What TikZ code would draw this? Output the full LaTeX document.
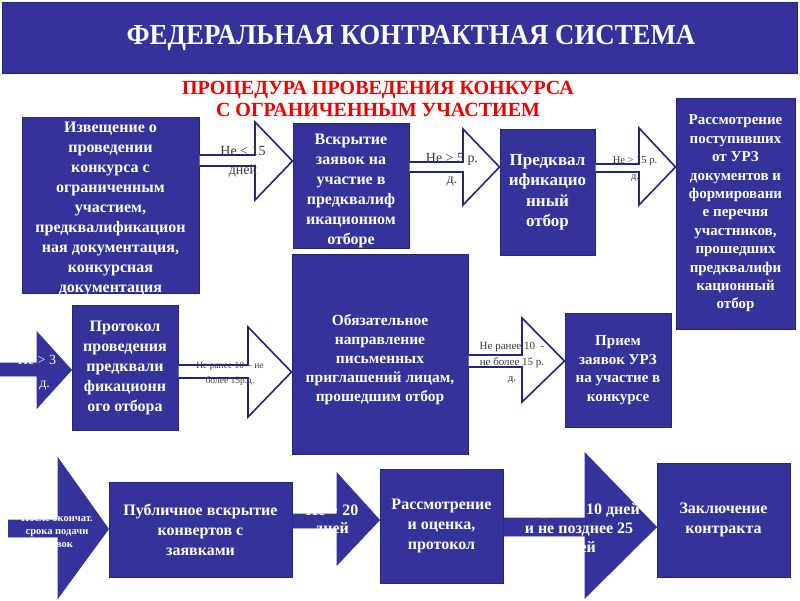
\documentclass[tikz,border=0pt]{standalone}
\usepackage{fontspec}
\usepackage{graphicx}
\setmainfont{Liberation Serif}
\definecolor{navy}{HTML}{333399}
\definecolor{navyedge}{HTML}{25257A}
\definecolor{redtitle}{HTML}{E60000}
\definecolor{labelgray}{HTML}{3A3A3A}
% #1 style, #2 start point, #3 tip point, #4 axis y, #5 shaft top, #6 shaft bottom, #7 head back x, #8 head top, #9 head bottom
\newcommand\barrow[9]{\path[#1] (#2 |- 0,#5) -- (#7,#5) -- (#7,#8) -- (#3 |- 0,#4) -- (#7,#9) -- (#7,#6) -- (#2 |- 0,#6);}
\tikzset{
  box/.style={draw=navyedge, line width=1pt, fill=navy, text=white, align=center, inner sep=0pt,
    font=\bfseries\fontsize{16}{20}\selectfont},
  boxtext/.style={text=white, align=center, inner sep=0pt, font=\bfseries\fontsize{16}{20}\selectfont},
  whitearrow/.style={draw=navyedge, line width=1.6pt, fill=white, line join=miter},
  navyarrow/.style={draw=navy, line width=0.8pt, fill=navy, line join=miter},
  lbl/.style={text=labelgray, align=center, inner sep=0pt},
  navylbl/.style={text=white, align=center, inner sep=0pt}
}
\begin{document}
\begin{tikzpicture}[x=1pt,y=-1pt]
\useasboundingbox (0,0) rectangle (800,600);
\fill[white] (0,0) rectangle (800,600);
% header
\node[draw=navyedge, line width=1pt, fill=navy, minimum width=795pt, minimum height=71pt, inner sep=0pt] (hdr) at (399.5,37.5) {};
\node[text=white, font=\bfseries\fontsize{29}{30}\selectfont, inner sep=0pt] (title) at (411,38) {\scalebox{0.926}[1]{ФЕДЕРАЛЬНАЯ КОНТРАКТНАЯ СИСТЕМА}};
\node[text=redtitle, font=\bfseries\fontsize{20}{22}\selectfont, align=center, inner sep=0pt] (sub) at (378,99) {ПРОЦЕДУРА ПРОВЕДЕНИЯ КОНКУРСА\\С ОГРАНИЧЕННЫМ УЧАСТИЕМ};

% boxes
\node[box, minimum width=177pt, minimum height=176pt,
  label={[boxtext, yshift=-4pt]center:{Извещение о\\проведении\\конкурса с\\ограниченным\\участием,\\предквалификацион\\ная документация,\\конкурсная\\документация}}] (b1) at (110.5,205) {};
\node[box, minimum width=116pt, minimum height=125pt] (b2) at (351,185.5)
  {\\[1pt]Вскрытие\\заявок на\\участие в\\предквалиф\\икационном\\отборе};
\node[box, minimum width=95pt, minimum height=126pt, font=\bfseries\fontsize{17}{20.5}\selectfont] (b3) at (547.5,192)
  {Предквал\\ификацио\\нный\\отбор};
\node[box, minimum width=119pt, minimum height=231pt, font=\bfseries\fontsize{15}{18.4}\selectfont] (b4) at (735.5,213.5)
  {Рассмотрение\\поступивших\\от УРЗ\\документов и\\формировани\\е перечня\\участников,\\прошедших\\предквалифи\\кационный\\отбор};
\node[box, minimum width=106pt, minimum height=125pt] (b5) at (125,367.5)
  {Протокол\\проведения\\предквали\\фикационн\\ого отбора};
\node[box, minimum width=176pt, minimum height=200pt, font=\bfseries\fontsize{15.5}{19}\selectfont] (b6) at (380,354)
  {\\[4pt]Обязательное\\направление\\письменных\\приглашений лицам,\\прошедшим отбор};
\node[box, minimum width=106pt, minimum height=114pt, font=\bfseries\fontsize{15}{18.5}\selectfont] (b7) at (618,370)
  {Прием\\заявок УРЗ\\на участие в\\конкурсе};
\node[box, minimum width=183pt, minimum height=95pt] (b8) at (200.5,529.5)
  {Публичное вскрытие\\конвертов с\\заявками};
\node[box, minimum width=123pt, minimum height=114pt] (b9) at (441.5,526)
  {Рассмотрение\\и оценка,\\протокол};
\node[box, minimum width=133pt, minimum height=114pt] (b10) at (723.5,520)
  {Заключение\\контракта};

\coordinate (s4) at (0,370);
\coordinate (s7) at (8,529);

% arrows
\barrow{whitearrow}{b1.east}{b2.west}{161}{155}{166}{255}{122}{200}
\barrow{whitearrow}{b2.east}{b3.west}{167}{162}{172}{463}{129}{205}
\barrow{whitearrow}{b3.east}{b4.west}{167}{164}{172}{639}{128}{205}
\barrow{navyarrow}{s4}{b5.west}{370}{363}{376}{37}{332}{408}
\barrow{whitearrow}{b5.east}{b6.west}{372}{365}{378}{248}{327}{417}
\barrow{whitearrow}{b6.east}{b7.west}{361}{355}{367}{522}{318}{402}
\barrow{navyarrow}{s7}{b8.west}{529}{520}{537}{58}{458}{598}
\barrow{navyarrow}{b8.east}{b9.west}{520}{514}{528}{337}{473}{565}
\barrow{navyarrow}{b9.east}{b10.west}{527}{518}{536}{585}{453}{598}

% arrow labels
\node[lbl, font=\fontsize{14}{19}\selectfont] (l1) at (243,162) {Не < 15\\дней};
\node[lbl, font=\fontsize{14}{21}\selectfont] (l2) at (452,169.5) {Не > 5 р.\\д.};
\node[lbl, font=\fontsize{10.5}{16}\selectfont] (l3) at (635,169) {Не > 15 р.\\д.};
\node[navylbl, font=\fontsize{14}{23}\selectfont] (l4) at (37,372.5) {Не > 3\\р. д.};
\node[lbl, font=\fontsize{9.5}{15}\selectfont] (l5) at (230,373.5) {Не ранее 10 \ - не\\более 15р.д.};
\node[lbl, font=\fontsize{11}{16}\selectfont] (l6) at (512,363) {Не ранее 10 \ -\\не более 15 р.\\д.};
\node[navylbl, font=\bfseries\fontsize{10.5}{13}\selectfont] (l7) at (57,531) {После окончат.\\срока подачи\\заявок};
\node[navylbl, font=\bfseries\fontsize{16}{18}\selectfont] (l8) at (332,521) {Не > 20\\дней};
\node[navylbl, font=\bfseries\fontsize{16}{19}\selectfont] (l9) at (579,529) {Не ранее 10 дней\\и не позднее 25\\дней};
\end{tikzpicture}
\end{document}
